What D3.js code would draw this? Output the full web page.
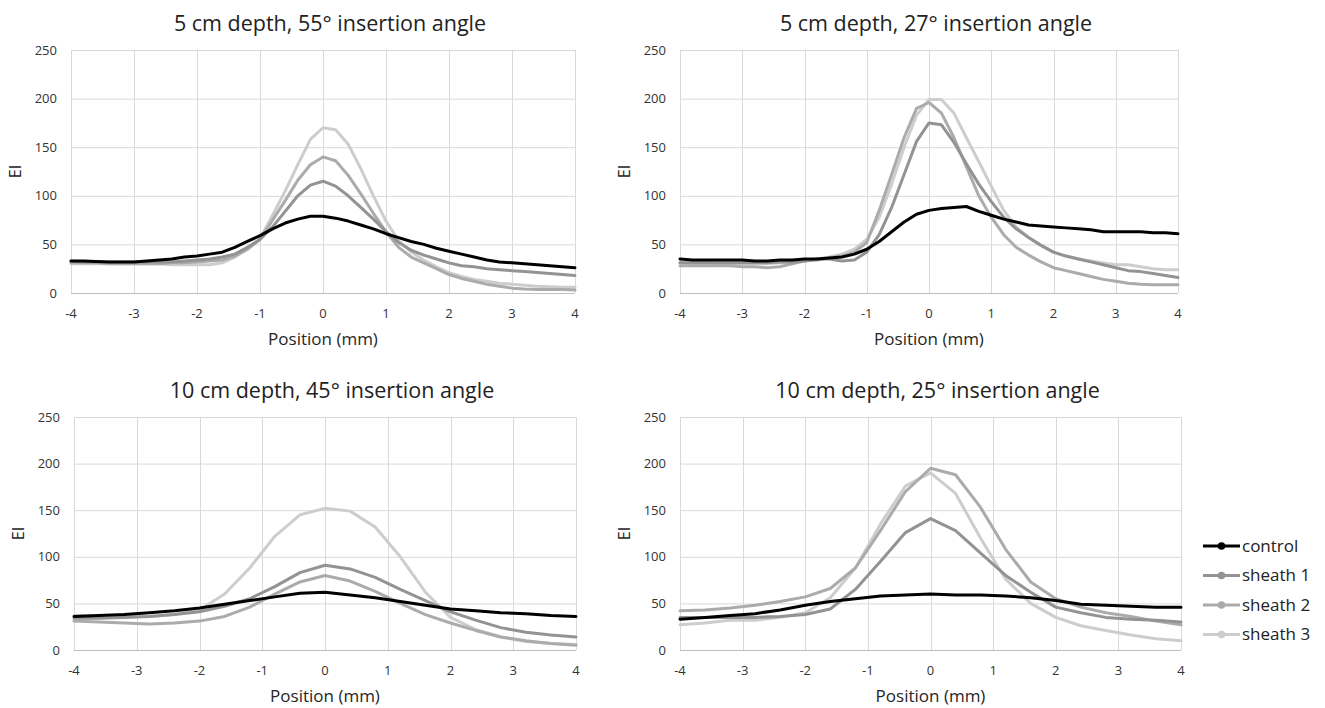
<!DOCTYPE html>
<html>
<head>
<meta charset="utf-8">
<script src="https://cdn.jsdelivr.net/npm/d3@7"></script>
<style>
  body { margin: 0; background: #fff; }
  text { font-family: "Open Sans", sans-serif; }
</style>
</head>
<body>
<svg id="chart" width="1325" height="708"></svg>
<script>
// x positions (mm)
const posFine = [-4, -3.8, -3.6, -3.4, -3.2, -3, -2.8, -2.6, -2.4, -2.2, -2, -1.8, -1.6, -1.4, -1.2, -1, -0.8, -0.6, -0.4, -0.2,
    0, 0.2, 0.4, 0.6, 0.8, 1, 1.2, 1.4, 1.6, 1.8, 2, 2.2, 2.4, 2.6, 2.8, 3, 3.2, 3.4, 3.6, 3.8, 4];
const posCoarse = [-4, -3.6, -3.2, -2.8, -2.4, -2, -1.6, -1.2, -0.8, -0.4, 0, 0.4, 0.8, 1.2, 1.6, 2, 2.4, 2.8, 3.2, 3.6, 4];

const seriesNames = ["control", "sheath 1", "sheath 2", "sheath 3"];
const seriesColors = ["#000000", "#939393", "#ababab", "#cdcdcd"];

const panelTitles = [
    "5 cm depth, 55° insertion angle",
    "5 cm depth, 27° insertion angle",
    "10 cm depth, 45° insertion angle",
    "10 cm depth, 25° insertion angle"
];

const xTicks = [-4, -3, -2, -1, 0, 1, 2, 3, 4];
const yTicks = [0, 50, 100, 150, 200, 250];

// 5 cm, 55°
const p1Control = [33, 33, 32.5, 32, 32, 32, 33, 34, 35, 37, 38, 40, 42, 47, 53, 59, 66, 72, 76, 79, 79, 77, 74, 70, 66, 61, 57, 53, 50, 46, 43, 40, 37, 34, 32, 31, 30, 29, 28, 27, 26];
const p1Sheath1 = [33, 32, 32, 32, 32, 32, 32, 32, 32, 33, 34, 35, 37, 40, 47, 55, 68, 84, 100, 111, 115, 110, 100, 88, 76, 63, 52, 44, 39, 35, 31, 28, 27, 25, 24, 23, 22, 21, 20, 19, 18];
const p1Sheath2 = [31, 31, 31, 30, 30, 30, 30, 30, 31, 31, 32, 33, 34, 38, 45, 55, 75, 95, 116, 132, 140, 136, 121, 102, 82, 63, 47, 37, 31, 25, 19, 15, 12, 9, 7, 5, 4, 3.5, 3.5, 3.5, 3];
const p1Sheath3 = [30, 30, 30, 30, 30, 30, 30, 30, 29, 29, 29, 29, 31, 37, 45, 56, 80, 105, 132, 158, 170, 168, 153, 128, 100, 74, 54, 42, 34, 27, 21, 17, 14, 12, 10, 9, 8, 7, 6.5, 6, 6];

// 5 cm, 27°
const p2Control = [35, 34, 34, 34, 34, 34, 33, 33, 34, 34, 35, 35, 36, 37, 40, 45, 53, 63, 73, 81, 85, 87, 88, 89, 84, 80, 76, 73, 70, 69, 68, 67, 66, 65, 63, 63, 63, 63, 62, 62, 61];
const p2Sheath1 = [31, 31, 31, 31, 31, 31, 31, 31, 32, 32, 33, 35, 35, 33, 34, 42, 60, 88, 122, 156, 175, 173, 155, 133, 112, 94, 78, 66, 57, 49, 42, 38, 35, 32, 29, 26, 23, 22, 20, 18, 16];
const p2Sheath2 = [28, 28, 28, 28, 28, 27, 27, 26, 27, 30, 33, 34, 36, 38, 42, 52, 85, 122, 160, 190, 196, 185, 160, 130, 100, 78, 60, 47, 39, 32, 26, 23, 20, 17, 14, 12, 10, 9, 8.5, 8.5, 8.5];
const p2Sheath3 = [31, 31, 31, 30, 30, 30, 30, 30, 31, 31, 33, 35, 37, 40, 45, 55, 78, 112, 150, 183, 199, 199, 185, 160, 135, 110, 85, 68, 57, 49, 42, 38, 35, 33, 31, 29, 29, 27, 25, 24, 24];

// 10 cm, 45°
const p3Control = [36, 37, 38, 40, 42, 45, 49, 53, 57, 61, 62, 59, 56, 52, 48, 44, 42, 40, 39, 37, 36];
const p3Sheath1 = [34, 34, 35, 36, 38, 41, 47, 55, 68, 83, 91, 87, 78, 65, 53, 41, 32, 24, 19, 16, 14];
const p3Sheath2 = [31, 30, 29, 28, 29, 31, 36, 46, 60, 73, 80, 74, 63, 50, 38, 29, 21, 14, 10, 7, 5];
const p3Sheath3 = [37, 37, 36, 36, 38, 43, 60, 88, 122, 145, 152, 149, 132, 100, 62, 35, 22, 14, 9, 7, 6];

// 10 cm, 25°
const p4Control = [33, 35, 37, 39, 43, 48, 52, 55, 58, 59, 60, 59, 59, 58, 56, 53, 49, 48, 47, 46, 46];
const p4Sheath1 = [35, 35, 35, 35, 36, 38, 44, 65, 95, 126, 141, 128, 104, 80, 62, 46, 40, 35, 33, 32, 30];
const p4Sheath2 = [42, 43, 45, 48, 52, 57, 66, 88, 128, 170, 195, 188, 153, 108, 73, 55, 46, 40, 36, 31, 27];
const p4Sheath3 = [27, 29, 32, 32, 35, 40, 56, 88, 135, 176, 190, 168, 120, 76, 50, 35, 26, 21, 16, 12, 10];

const panels = [
    { title: panelTitles[0], x: posFine, series: [p1Control, p1Sheath1, p1Sheath2, p1Sheath3], left: 71, right: 575, top: 50, bottom: 293 },
    { title: panelTitles[1], x: posFine, series: [p2Control, p2Sheath1, p2Sheath2, p2Sheath3], left: 680, right: 1178, top: 50, bottom: 293 },
    { title: panelTitles[2], x: posCoarse, series: [p3Control, p3Sheath1, p3Sheath2, p3Sheath3], left: 74, right: 576, top: 417, bottom: 650 },
    { title: panelTitles[3], x: posCoarse, series: [p4Control, p4Sheath1, p4Sheath2, p4Sheath3], left: 680, right: 1181, top: 417, bottom: 650 }
];

const svg = d3.select("#chart");

panels.forEach(p => {
    const x = d3.scaleLinear().domain([-4, 4]).range([p.left, p.right]);
    const y = d3.scaleLinear().domain([0, 250]).range([p.bottom, p.top]);
    const g = svg.append("g");

    // grid
    g.selectAll(".hgrid").data(yTicks.filter(d => d > 0)).enter().append("line")
        .attr("x1", p.left).attr("x2", p.right)
        .attr("y1", d => y(d) + 0.5).attr("y2", d => y(d) + 0.5)
        .attr("stroke", "#d9d9d9").attr("stroke-width", 1);
    g.selectAll(".vgrid").data(xTicks).enter().append("line")
        .attr("x1", d => Math.round(x(d)) + 0.5).attr("x2", d => Math.round(x(d)) + 0.5)
        .attr("y1", p.top).attr("y2", p.bottom)
        .attr("stroke", "#d9d9d9").attr("stroke-width", 1);

    // axis line
    g.append("line")
        .attr("x1", p.left).attr("x2", p.right)
        .attr("y1", p.bottom + 0.5).attr("y2", p.bottom + 0.5)
        .attr("stroke", "#bfbfbf").attr("stroke-width", 1);

    // tick labels
    g.selectAll(".ylab").data(yTicks).enter().append("text")
        .attr("x", p.left - 14).attr("y", d => y(d))
        .attr("dy", "0.36em").attr("text-anchor", "end")
        .attr("font-size", 13).attr("fill", "#333")
        .text(d => d);
    g.selectAll(".xlab").data(xTicks).enter().append("text")
        .attr("x", d => x(d)).attr("y", p.bottom + 25)
        .attr("text-anchor", "middle")
        .attr("font-size", 13).attr("fill", "#333")
        .text(d => d);

    // axis titles
    g.append("text")
        .attr("x", (p.left + p.right) / 2).attr("y", p.bottom + 52)
        .attr("text-anchor", "middle").attr("font-size", 17).attr("fill", "#262626")
        .text("Position (mm)");
    g.append("text")
        .attr("transform", `translate(${p.left - 50},${(p.top + p.bottom) / 2}) rotate(-90)`)
        .attr("text-anchor", "middle").attr("font-size", 16).attr("fill", "#262626")
        .text("EI");

    // chart title
    g.append("text")
        .attr("x", (p.left + p.right) / 2 + 7).attr("y", p.top - 19)
        .attr("text-anchor", "middle").attr("font-size", 21.5).attr("fill", "#222")
        .text(p.title);

    // series
    const line = d3.line()
        .x((d, i) => x(p.x[i]))
        .y(d => y(d));
    // draw lighter first so control stays on top
    [3, 2, 1, 0].forEach(k => {
        g.append("path")
            .datum(p.series[k])
            .attr("d", line)
            .attr("fill", "none")
            .attr("stroke", seriesColors[k])
            .attr("stroke-width", 3)
            .attr("stroke-linejoin", "round")
            .attr("stroke-linecap", "round");
    });
});

// legend
const legend = svg.append("g");
const legendY = d3.scalePoint().domain(seriesNames).range([546, 634.5]);
seriesNames.forEach((name, k) => {
    const ly = legendY(name);
    legend.append("line")
        .attr("x1", 1203).attr("x2", 1240).attr("y1", ly).attr("y2", ly)
        .attr("stroke", seriesColors[k]).attr("stroke-width", 3);
    legend.append("circle")
        .attr("cx", 1221.5).attr("cy", ly).attr("r", 3.8)
        .attr("fill", seriesColors[k]);
    legend.append("text")
        .attr("x", 1242).attr("y", ly).attr("dy", "0.34em")
        .attr("font-size", 17).attr("fill", "#222")
        .text(name);
});
</script>
</body>
</html>
